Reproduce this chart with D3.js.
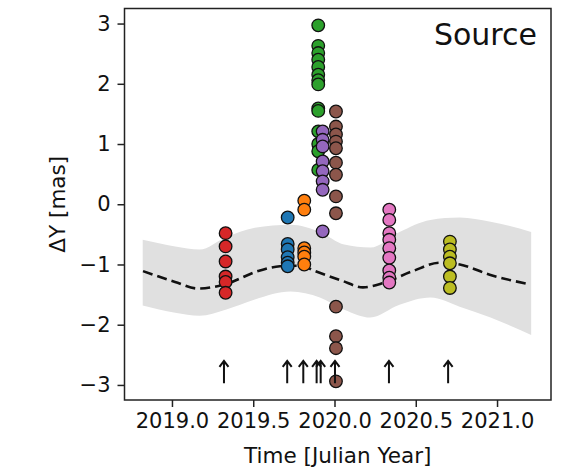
<!DOCTYPE html>
<html>
<head>
<meta charset="utf-8">
<script src="https://cdn.jsdelivr.net/npm/d3@7"></script>
<style>
  body { margin: 0; background: #fff; }
  svg { font-family: "DejaVu Sans", sans-serif; }
</style>
</head>
<body>
<svg id="chart" width="565" height="469"></svg>
<script>

// epoch (Julian year) of each observation group and its dY values [mas]
var groups = [
    { name: "red",    t: 2019.330, c: "#d62728" },
    { name: "blue",   t: 2019.712, c: "#1f77b4" },
    { name: "orange", t: 2019.814, c: "#ff7f0e" },
    { name: "green",  t: 2019.900, c: "#2ca02c" },
    { name: "purple", t: 2019.927, c: "#9467bd" },
    { name: "brown",  t: 2020.009, c: "#8c564b" },
    { name: "pink",   t: 2020.337, c: "#e377c2" },
    { name: "olive",  t: 2020.710, c: "#bcbd22" }
];

var red    = [-0.48, -0.70, -0.95, -1.20, -1.29, -1.47];
var blue   = [-0.22, -0.66, -0.75, -0.88, -0.97, -1.03];
var orange = [0.06, -0.09, -0.73, -0.80, -0.87, -1.00];
var green  = [2.97, 2.63, 2.51, 2.40, 2.28, 2.15, 2.06, 1.99, 1.59, 1.55, 1.21, 1.00, 0.88, 0.57];
var purple = [1.21, 1.07, 0.96, 0.71, 0.55, 0.38, 0.24, -0.45];
var brown  = [1.54, 1.29, 1.16, 1.04, 0.93, 0.69, 0.49, 0.13, -0.15, -1.70, -2.19, -2.39, -2.94];
var pink   = [-0.09, -0.26, -0.48, -0.59, -0.73, -0.89, -1.10, -1.22, -1.30];
var olive  = [-0.62, -0.75, -0.87, -0.98, -1.20, -1.39];
var values = { red: red, blue: blue, orange: orange, green: green,
               purple: purple, brown: brown, pink: pink, olive: olive };

// model track (dashed)
var model_t = [2018.822, 2019.019, 2019.160, 2019.326, 2019.529, 2019.664, 2019.787, 2019.880,
               2020.046, 2020.175, 2020.298, 2020.482, 2020.648, 2020.771, 2020.955, 2021.202];
var model_y = [-1.11, -1.29, -1.40, -1.33, -1.11, -1.03, -1.02, -1.11,
               -1.27, -1.38, -1.31, -1.11, -0.97, -1.00, -1.17, -1.33];

// grey uncertainty band
var band_t  = [2018.82, 2019.02, 2019.17, 2019.33, 2019.51, 2019.73, 2019.91,
               2020.06, 2020.22, 2020.40, 2020.59, 2020.77, 2020.96, 2021.21];
var band_hi = [-0.59, -0.70, -0.75, -0.55, -0.39, -0.34, -0.46,
               -0.67, -0.72, -0.46, -0.26, -0.22, -0.29, -0.46];
var band_lo = [-1.68, -1.80, -1.85, -1.75, -1.58, -1.45, -1.55,
               -1.75, -1.88, -1.67, -1.55, -1.70, -1.88, -2.17];

// arrows marking the epochs
var arrow_t = [2019.320, 2019.709, 2019.808, 2019.890, 2019.915, 2020.003, 2020.335, 2020.699];
var arrow_from = -2.97, arrow_to = -2.60;

var xticks = [2019.0, 2019.5, 2020.0, 2020.5, 2021.0];
var yticks = [-3, -2, -1, 0, 1, 2, 3];

var svg = d3.select("#chart");
var margin = {left: 124.5, top: 8.5, right: 14, bottom: 69};
var width  = +svg.attr("width")  - margin.left - margin.right,
    height = +svg.attr("height") - margin.top  - margin.bottom;

var x = d3.scaleLinear().domain([2018.708, 2021.332]).range([0, width]);
var y = d3.scaleLinear().domain([-3.25, 3.25]).range([height, 0]);

var g = svg.append("g")
    .attr("transform", "translate(" + margin.left + "," + margin.top + ")");

// band
var band = band_t.map(function(t, i){ return [t, band_lo[i], band_hi[i]]; });
g.append("path")
    .datum(band)
    .attr("fill", "#e0e0e0")
    .attr("d", d3.area()
        .x(function(d){ return x(d[0]); })
        .y0(function(d){ return y(d[1]); })
        .y1(function(d){ return y(d[2]); })
        .curve(d3.curveMonotoneX));

// model
var model = model_t.map(function(t, i){ return [t, model_y[i]]; });
g.append("path")
    .datum(model)
    .attr("fill", "none")
    .attr("stroke", "#111")
    .attr("stroke-width", 2.6)
    .attr("stroke-dasharray", "10,5")
    .attr("d", d3.line()
        .x(function(d){ return x(d[0]); })
        .y(function(d){ return y(d[1]); })
        .curve(d3.curveMonotoneX));

// points
groups.forEach(function(grp){
    g.append("g").selectAll("circle")
        .data(values[grp.name])
        .enter().append("circle")
        .attr("cx", x(grp.t))
        .attr("cy", function(d){ return y(d); })
        .attr("r", 6.3)
        .attr("fill", grp.c)
        .attr("stroke", "#111")
        .attr("stroke-width", 1.3);
});

// arrows
arrow_t.forEach(function(t){
    var ax = x(t), y0 = y(arrow_from), y1 = y(arrow_to);
    g.append("path")
        .attr("d", "M" + ax + "," + y0 + "L" + ax + "," + y1 +
                   "M" + (ax - 4.5) + "," + (y1 + 6) + "L" + ax + "," + y1 + "L" + (ax + 4.5) + "," + (y1 + 6))
        .attr("fill", "none")
        .attr("stroke", "#111")
        .attr("stroke-width", 2);
});

// frame
g.append("rect")
    .attr("width", width).attr("height", height)
    .attr("fill", "none")
    .attr("stroke", "#222")
    .attr("stroke-width", 1.5);

// axes
var xAx = g.append("g")
    .attr("transform", "translate(0," + height + ")")
    .call(d3.axisBottom(x).tickValues(xticks).tickFormat(d3.format(".1f")).tickSize(7).tickPadding(6));
var yAx = g.append("g")
    .call(d3.axisLeft(y).tickValues(yticks).tickFormat(d3.format("d")).tickSize(7).tickPadding(7));

[xAx, yAx].forEach(function(a){
    a.select(".domain").remove();
    a.selectAll(".tick line").attr("stroke", "#222").attr("stroke-width", 1.5);
    a.selectAll(".tick text")
        .attr("fill", "#111")
        .style("font-family", "DejaVu Sans")
        .style("font-size", "21px");
});

// labels
svg.append("text")
    .attr("x", margin.left + width / 2)
    .attr("y", 463)
    .attr("text-anchor", "middle")
    .attr("fill", "#111")
    .style("font-size", "21.5px")
    .text("Time [Julian Year]");

svg.append("text")
    .attr("transform", "translate(65," + (margin.top + height / 2) + ") rotate(-90)")
    .attr("text-anchor", "middle")
    .attr("fill", "#111")
    .style("font-size", "21.5px")
    .text("ΔY [mas]");

svg.append("text")
    .attr("x", 537)
    .attr("y", 45)
    .attr("text-anchor", "end")
    .attr("fill", "#111")
    .style("font-size", "30px")
    .text("Source");

</script>
</body>
</html>
